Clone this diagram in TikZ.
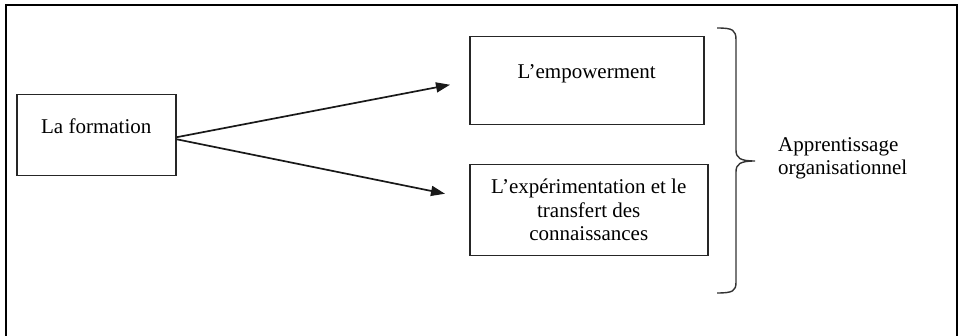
\documentclass[tikz,border=0pt]{standalone}
\usepackage{fontspec}
\setmainfont{Liberation Serif}
\usetikzlibrary{arrows.meta}
\begin{document}
\begin{tikzpicture}[x=1pt,y=-1pt,
  box/.style={draw=black!85,line width=1.5pt,rectangle,inner sep=0pt,
    font=\fontsize{21}{23.5}\selectfont},
  lbl/.style={inner sep=0pt,font=\fontsize{21}{23.5}\selectfont},
  arr/.style={draw=black!90,line width=1.7pt,-{Triangle[length=14pt,width=10pt]}},
  brace/.style={draw=black!80,line width=1.4pt}]
\useasboundingbox (0,0) rectangle (959,336);
\draw[line width=2.2pt] (6,5) rectangle (957,345);
\node[box,anchor=north west,minimum width=159pt,text height=39pt,text depth=42pt] (form) at (16,94) {La formation};
\node[box,anchor=north west,minimum width=234pt,text height=42pt,text depth=46pt] (emp) at (469,36) {L’empowerment};
\node[box,anchor=north west,minimum width=238pt,minimum height=91pt,align=center] (exp) at (469,164) {L’expérimentation et le\\transfert des\\connaissances};
\draw[arr] ([yshift=-2pt]form.east) -- ([xshift=-19pt,yshift=-4pt]emp.west);
\draw[arr] ([yshift=-4pt]form.east) -- ([xshift=-24pt,yshift=16.5pt]exp.west);
\coordinate (bt) at (717,28);
\coordinate (bm) at (755,161);
\coordinate (bb) at (717,293);
\draw[brace] (bt) .. controls (733,28) and (736,30) .. (736,40) -- (736,150)
  .. controls (736,158) and (740,161) .. (bm)
  .. controls (740,161) and (736,164) .. (736,172) -- (736,282)
  .. controls (736,291) and (733,293) .. (bb);
\node[lbl,anchor=west,align=left] (ao) at (778,158.5) {Apprentissage\\organisationnel};
\end{tikzpicture}
\end{document}
